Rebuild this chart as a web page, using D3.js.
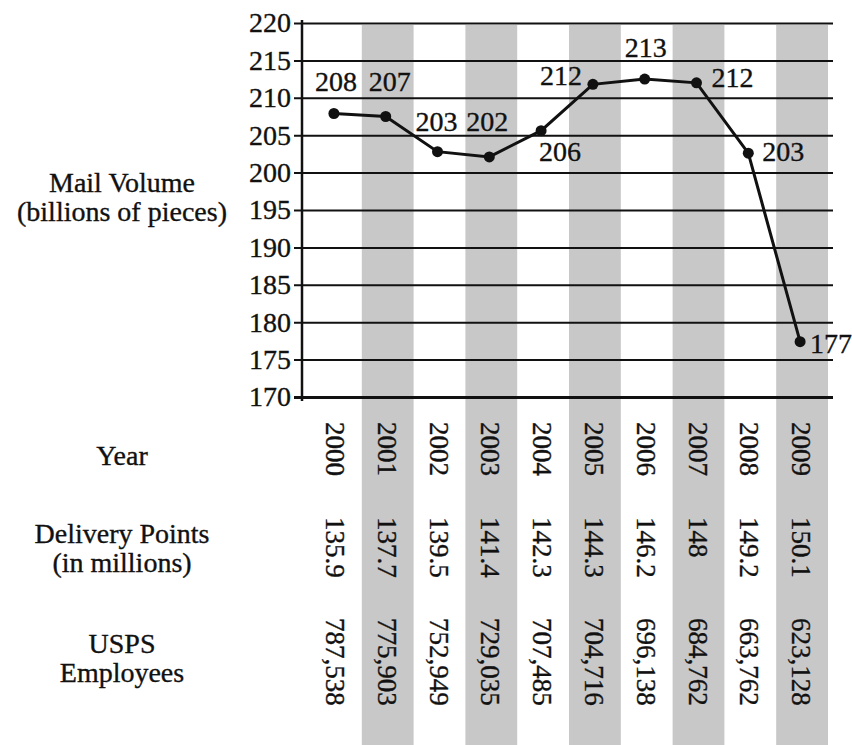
<!DOCTYPE html>
<html>
<head>
<meta charset="utf-8">
<script src="https://cdn.jsdelivr.net/npm/d3@7"></script>
<style>
  body { margin: 0; background: #fff; }
  svg text { font-family: "Liberation Serif", "Times New Roman", serif; fill: #111; stroke: #111; stroke-width: 0.35px; }
</style>
</head>
<body>
<div id="chart"></div>
<script>
// data
const years = ["2000", "2001", "2002", "2003", "2004", "2005", "2006", "2007", "2008", "2009"];
const mailVolume = [207.9, 207.5, 202.8, 202.1, 205.6, 211.8, 212.5, 212.0, 202.6, 177.4];
const mailLabels = ["208", "207", "203", "202", "206", "212", "213", "212", "203", "177"];
const deliveryPoints = ["135.9", "137.7", "139.5", "141.4", "142.3", "144.3", "146.2", "148", "149.2", "150.1"];
const employees = ["787,538", "775,903", "752,949", "729,035", "707,485", "704,716", "696,138", "684,762", "663,762", "623,128"];
const yTicks = [170, 175, 180, 185, 190, 195, 200, 205, 210, 215, 220];

const width = 852, height = 745;

const svg = d3.select("#chart").append("svg")
    .attr("width", width)
    .attr("height", height);

const x = d3.scaleBand()
    .domain(years)
    .range([310, 828]);

const y = d3.scaleLinear()
    .domain([170, 220])
    .range([397, 23]);

// shaded columns for every other year
svg.append("g").selectAll("rect")
    .data(years.filter((d, i) => i % 2 === 1))
    .join("rect")
    .attr("x", d => x(d))
    .attr("y", 25)
    .attr("width", x.bandwidth())
    .attr("height", height - 25)
    .attr("fill", "#c8c8c8");

// gridlines + tick labels
const axisG = svg.append("g")
    .attr("transform", "translate(294,0)")
    .call(d3.axisLeft(y).tickValues(yTicks).tickSize(-539).tickPadding(3));
axisG.select(".domain").remove();
axisG.selectAll(".tick line")
    .attr("stroke", "#111")
    .attr("stroke-width", d => d === 170 ? 3 : 2);
axisG.selectAll(".tick text")
    .attr("font-size", 28)
    .attr("font-family", "Liberation Serif")
    .attr("fill", "#111");

// vertical axis line
svg.append("line")
    .attr("x1", 302).attr("x2", 302)
    .attr("y1", y(220) - 3).attr("y2", y(170) + 4)
    .attr("stroke", "#111")
    .attr("stroke-width", 2.5);

// mail volume line
const pts = years.map((d, i) => ({ year: d, v: mailVolume[i], label: mailLabels[i] }));

svg.append("path")
    .datum(pts)
    .attr("fill", "none")
    .attr("stroke", "#111")
    .attr("stroke-width", 3)
    .attr("d", d3.line()
        .x(d => x(d.year) + x.bandwidth() / 2 - 2)
        .y(d => y(d.v)));

svg.append("g").selectAll("circle")
    .data(pts)
    .join("circle")
    .attr("cx", d => x(d.year) + x.bandwidth() / 2 - 2)
    .attr("cy", d => y(d.v))
    .attr("r", 5.5)
    .attr("fill", "#111");

// where each value label sits relative to its point
const labelOffsets = [[2, -23], [4, -26], [-1, -21], [-2, -26], [19, 30],
    [-32, 1], [1, -22], [36, 4], [35, 8], [31, 11]];

svg.append("g").selectAll("text")
    .data(pts)
    .join("text")
    .attr("x", (d, i) => x(d.year) + x.bandwidth() / 2 - 2 + labelOffsets[i][0])
    .attr("y", (d, i) => y(d.v) + labelOffsets[i][1])
    .attr("text-anchor", "middle")
    .attr("font-size", 28)
    .text(d => d.label);

// left side row titles
const leftTitles = [
    { lines: ["Mail Volume", "(billions of pieces)"], y: 192 },
    { lines: ["Year"], y: 465 },
    { lines: ["Delivery Points", "(in millions)"], y: 543 },
    { lines: ["USPS", "Employees"], y: 653 }
];
leftTitles.forEach(t => {
    t.lines.forEach((line, j) => {
        svg.append("text")
            .attr("x", 122)
            .attr("y", t.y + j * 29)
            .attr("text-anchor", "middle")
            .attr("font-size", 28)
            .text(line);
    });
});

// rotated table rows under the chart
const rows = [
    { values: years, top: 422 },
    { values: deliveryPoints, top: 517 },
    { values: employees, top: 618 }
];
rows.forEach(row => {
    svg.append("g").selectAll("text")
        .data(row.values)
        .join("text")
        .attr("transform", (d, i) => "translate(" + (x(years[i]) + x.bandwidth() / 2 - 1) + "," + row.top + ") rotate(90)")
        .attr("dy", "0.33em")
        .attr("font-size", 27)
        .text(d => d);
});
</script>
</body>
</html>
